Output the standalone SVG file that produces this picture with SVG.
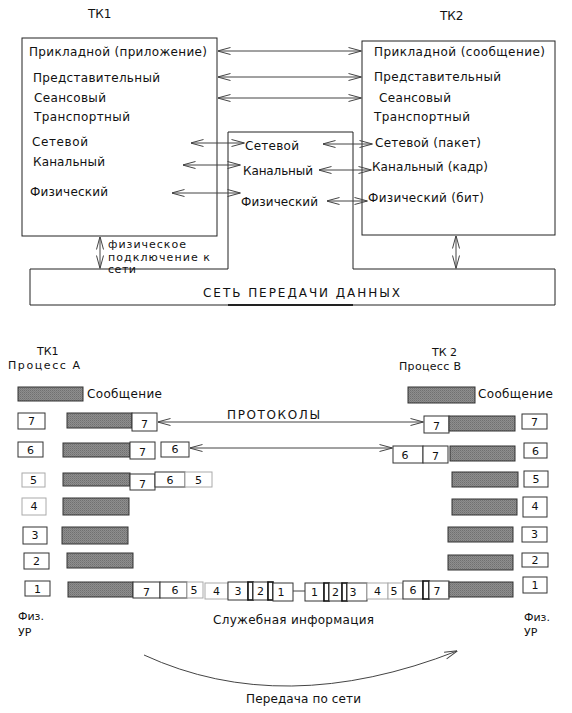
<svg xmlns="http://www.w3.org/2000/svg" width="572" height="713" viewBox="0 0 572 713">
<style>
text{font-family:"DejaVu Sans","Liberation Sans",sans-serif;font-size:12px;fill:#111}
.s{font-size:11px}
.c{text-anchor:middle}
.frame{fill:none;stroke:#222;stroke-width:1}
.box{fill:#fff;stroke:#333;stroke-width:1}
.lbox{fill:#fff;stroke:#aaa;stroke-width:1}
.nbox{fill:#fff;stroke:#111;stroke-width:1.6}
.msg{fill:url(#hatch);stroke:#333;stroke-width:1}
.ln{fill:none;stroke:#444;stroke-width:1}
.arr{fill:none;stroke:#444;stroke-width:1;marker-start:url(#ah);marker-end:url(#ah)}
.arr1{fill:none;stroke:#444;stroke-width:1;marker-end:url(#ah)}
</style>
<defs>
<pattern id="hatch" width="2" height="2" patternUnits="userSpaceOnUse">
<rect width="2" height="2" fill="#8e8e8e"/>
<rect width="1" height="1" fill="#707070"/>
<rect x="1" y="1" width="1" height="1" fill="#7e7e7e"/>
</pattern>
<marker id="ah" viewBox="0 0 14 10" refX="13.5" refY="5" markerWidth="14" markerHeight="10" markerUnits="userSpaceOnUse" orient="auto-start-reverse">
<path d="M14,5 L1,1.5 M14,5 L1,8.5" fill="none" stroke="#444" stroke-width="1"/>
</marker>
</defs>

<!-- ===== TOP PART ===== -->
<g id="pk1-title"><text x="88" y="18">ТК1</text></g>
<g id="pk2-title"><text x="440" y="20">ТК2</text></g>

<g id="pk1">
<rect class="frame" x="22" y="38" width="195" height="198"/>
<text x="29" y="56" textLength="178">Прикладной (приложение)</text>
<text x="33" y="82" textLength="127">Представительный</text>
<text x="34" y="102" textLength="72">Сеансовый</text>
<text x="34" y="121" textLength="96">Транспортный</text>
<text x="32" y="146" textLength="56">Сетевой</text>
<text x="33" y="166" textLength="72">Канальный</text>
<text x="30" y="196" textLength="78">Физический</text>
</g>

<g id="pk2">
<rect class="frame" x="362" y="41" width="193" height="194"/>
<text x="374" y="56" textLength="171">Прикладной (сообщение)</text>
<text x="374" y="81" textLength="127">Представительный</text>
<text x="379" y="102" textLength="72">Сеансовый</text>
<text x="374" y="121" textLength="96">Транспортный</text>
<text x="375" y="147" textLength="106">Сетевой (пакет)</text>
<text x="372" y="171" textLength="116">Канальный (кадр)</text>
<text x="368" y="202" textLength="116">Физический (бит)</text>
</g>

<g id="router">
<path class="frame" d="M228,269 V132 H353 V269"/>
<text x="245" y="150" textLength="54">Сетевой</text>
<text x="243" y="175" textLength="70">Канальный</text>
<text x="241" y="206" textLength="77">Физический</text>
</g>

<g id="network">
<path class="frame" d="M228,269 H30 V305 H555 V269 H353"/>
<line x1="228" y1="305" x2="353" y2="305" stroke="#222" stroke-width="2"/>
<text x="203" y="297" textLength="197">СЕТЬ ПЕРЕДАЧИ ДАННЫХ</text>
</g>

<g id="phys-label">
<text class="s" x="108" y="248" textLength="78">физическое</text>
<text class="s" x="108" y="261" textLength="102">подключение к</text>
<text class="s" x="108" y="273" textLength="28">сети</text>
</g>

<g id="connectors-top">
<line class="arr" x1="218" y1="51" x2="361" y2="51"/>
<line class="arr" x1="218" y1="77" x2="361" y2="77"/>
<line class="arr" x1="218" y1="98" x2="361" y2="98"/>
<line class="arr" x1="191" y1="143" x2="244" y2="143"/>
<line class="arr" x1="183" y1="165" x2="240" y2="165"/>
<line class="arr" x1="172" y1="193" x2="240" y2="193"/>
<line class="arr" x1="323" y1="144" x2="372" y2="144"/>
<line class="arr" x1="319" y1="170" x2="371" y2="170"/>
<line class="arr" x1="327" y1="201" x2="367" y2="201"/>
<line class="arr" x1="100" y1="237" x2="100" y2="268"/>
<line class="arr" x1="456" y1="236" x2="456" y2="268"/>
</g>

<!-- ===== BOTTOM PART ===== -->
<g id="pk1-process">
<text class="s" x="37" y="355">ТК1</text>
<text class="s" x="8" y="369" textLength="72">Процесс А</text>
</g>
<g id="pk2-process">
<text class="s" x="432" y="356">ТК 2</text>
<text class="s" x="399" y="370" textLength="62">Процесс В</text>
</g>

<g id="msg-left">
<rect class="msg" x="18" y="387" width="65" height="14"/>
<text x="87" y="398" textLength="75">Сообщение</text>
</g>
<g id="msg-right">
<rect class="msg" x="408" y="387" width="67" height="16"/>
<text x="478" y="398" textLength="75">Сообщение</text>
</g>

<g id="left-row7">
<rect class="box" x="18" y="413" width="27" height="16"/><text class="s c" x="31.5" y="425">7</text>
<rect class="msg" x="67" y="413" width="65" height="15"/>
<rect class="box" x="132" y="413" width="25" height="18"/><text class="s c" x="144.5" y="428">7</text>
</g>
<g id="right-row7">
<rect class="box" x="424" y="416" width="25" height="17"/><text class="s c" x="436.5" y="430">7</text>
<rect class="msg" x="449" y="416" width="66" height="15"/>
<rect class="box" x="522" y="414" width="25" height="15"/><text class="s c" x="534.5" y="426">7</text>
</g>

<g id="left-row6">
<rect class="box" x="18" y="442" width="25" height="15"/><text class="s c" x="30.5" y="454">6</text>
<rect class="msg" x="63" y="443" width="67" height="14"/>
<rect class="box" x="130" y="442" width="25" height="17"/><text class="s c" x="142.5" y="456">7</text>
<rect class="box" x="161" y="442" width="28" height="15"/><text class="s c" x="175" y="453">6</text>
</g>
<g id="right-row6">
<rect class="box" x="393" y="446" width="30" height="17"/><text class="s c" x="405" y="459">6</text>
<rect class="box" x="423" y="446" width="25" height="17"/><text class="s c" x="435.5" y="460">7</text>
<rect class="msg" x="450" y="446" width="65" height="15"/>
<rect class="box" x="524" y="443" width="23" height="15"/><text class="s c" x="535.5" y="455">6</text>
</g>

<g id="left-row5">
<rect class="lbox" x="22" y="473" width="23" height="14"/><text class="s c" x="33.5" y="484">5</text>
<rect class="msg" x="63" y="473" width="67" height="13"/>
<rect class="box" x="130" y="474" width="25" height="16"/><text class="s c" x="142.5" y="488">7</text>
<rect class="box" x="155" y="472" width="30" height="15"/><text class="s c" x="170" y="484">6</text>
<rect class="lbox" x="185" y="472" width="27" height="15"/><text class="s c" x="198.5" y="484">5</text>
</g>
<g id="right-row5">
<rect class="msg" x="452" y="472" width="66" height="15"/>
<rect class="box" x="524" y="471" width="24" height="16"/><text class="s c" x="536" y="483">5</text>
</g>

<g id="left-row4">
<rect class="lbox" x="22" y="498" width="24" height="17"/><text class="s c" x="34" y="510">4</text>
<rect class="msg" x="63" y="498" width="66" height="17"/>
</g>
<g id="right-row4">
<rect class="msg" x="452" y="499" width="65" height="16"/>
<rect class="box" x="523" y="497" width="24" height="20"/><text class="s c" x="535" y="510">4</text>
</g>

<g id="left-row3">
<rect class="box" x="23" y="527" width="24" height="17"/><text class="s c" x="35" y="539">3</text>
<rect class="msg" x="62" y="527" width="66" height="17"/>
</g>
<g id="right-row3">
<rect class="msg" x="448" y="527" width="65" height="15"/>
<rect class="box" x="522" y="527" width="25" height="15"/><text class="s c" x="534.5" y="538">3</text>
</g>

<g id="left-row2">
<rect class="box" x="24" y="553" width="25" height="16"/><text class="s c" x="36.5" y="565">2</text>
<rect class="msg" x="67" y="553" width="66" height="15"/>
</g>
<g id="right-row2">
<rect class="msg" x="448" y="555" width="65" height="15"/>
<rect class="box" x="522" y="553" width="26" height="14"/><text class="s c" x="535" y="564">2</text>
</g>

<g id="left-row1">
<rect class="box" x="25" y="581" width="25" height="15"/><text class="s c" x="37.5" y="593">1</text>
<rect class="msg" x="68" y="582" width="65" height="15"/>
<rect class="box" x="133" y="582" width="27" height="16"/><text class="s c" x="146.5" y="596">7</text>
<rect class="box" x="160" y="582" width="27" height="16"/><text class="s c" x="175" y="594">6</text>
<rect class="lbox" x="187" y="582" width="16" height="16"/><text class="s c" x="194" y="594">5</text>
<rect class="lbox" x="205" y="583" width="23" height="16"/><text class="s c" x="216.5" y="595">4</text>
<rect class="box" x="228" y="582" width="20" height="18"/><text class="s c" x="238" y="595">3</text>
<rect class="nbox" x="248" y="582" width="5" height="18"/>
<rect class="box" x="253" y="582" width="15" height="18"/><text class="s c" x="260.5" y="595">2</text>
<rect class="nbox" x="268" y="582" width="5" height="18"/>
<rect class="box" x="273" y="583" width="20" height="18"/><text class="s c" x="281" y="596">1</text>
</g>
<g id="right-row1">
<rect class="box" x="305" y="583" width="19" height="18"/><text class="s c" x="314.5" y="596">1</text>
<rect class="nbox" x="324" y="583" width="5" height="18"/>
<rect class="box" x="329" y="583" width="13" height="18"/><text class="s c" x="335.5" y="596">2</text>
<rect class="nbox" x="342" y="583" width="5" height="18"/>
<rect class="box" x="347" y="583" width="20" height="18"/><text class="s c" x="353" y="596">3</text>
<rect class="lbox" x="367" y="583" width="21" height="16"/><text class="s c" x="377.5" y="595">4</text>
<rect class="lbox" x="388" y="583" width="15" height="16"/><text class="s c" x="394" y="595">5</text>
<rect class="box" x="403" y="581" width="20" height="18"/><text class="s c" x="413" y="594">6</text>
<rect class="nbox" x="423" y="581" width="6" height="18"/>
<rect class="box" x="429" y="581" width="20" height="18"/><text class="s c" x="437" y="595">7</text>
<rect class="msg" x="449" y="582" width="64" height="15"/>
<rect class="box" x="523" y="577" width="24" height="16"/><text class="s c" x="535" y="589">1</text>
</g>

<g id="phys-left">
<text class="s" x="18" y="620">Физ.</text>
<text class="s" x="18" y="636">УР</text>
</g>
<g id="phys-right">
<text class="s" x="524" y="621">Физ.</text>
<text class="s" x="524" y="636">УР</text>
</g>
<g id="service-info"><text x="213" y="624" textLength="161">Служебная информация</text></g>
<g id="protocols"><text x="227" y="419" textLength="93">ПРОТОКОЛЫ</text></g>
<g id="transfer"><text x="246" y="703" textLength="115">Передача по сети</text></g>

<g id="connectors-bottom">
<line class="arr" x1="158" y1="422" x2="423" y2="422"/>
<line class="arr" x1="190" y1="448" x2="392" y2="448"/>
<line class="ln" x1="293" y1="591" x2="305" y2="591"/>
<path class="arr1" d="M144,655 Q283,719 457,651"/>
</g>
</svg>
